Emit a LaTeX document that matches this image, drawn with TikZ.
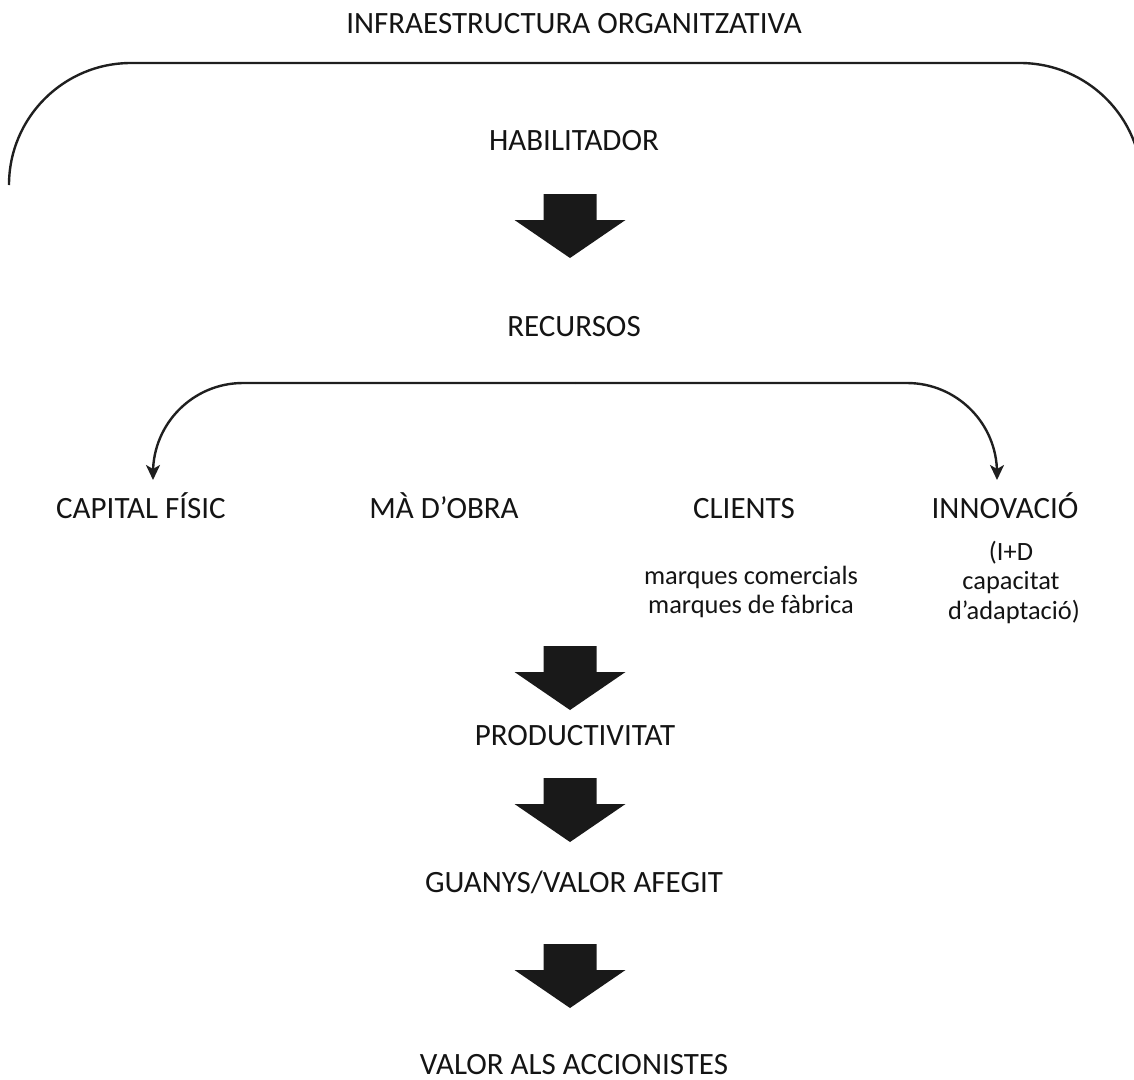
\documentclass[tikz,border=0pt]{standalone}
\usepackage{fontspec}
\setmainfont{Carlito}
\usetikzlibrary{arrows.meta}
\begin{document}
\begin{tikzpicture}[x=1pt,y=-1pt,
  label/.style={inner sep=0pt, anchor=base, text=black!92, font=\fontsize{31}{37}\selectfont},
  note/.style={inner sep=0pt, text=black!92, align=center, font=\fontsize{26.4}{29.5}\selectfont},
  conn/.style={line width=2.4pt, draw=black!88},
  tip/.style={-{Stealth[length=15pt,width=14pt,inset=4pt]}},
  downarrow/.pic={\fill[black!90] (-26.5,0) -- (26.5,0) -- (26.5,26) -- (55.5,26)
      -- (0,64) -- (-55.5,26) -- (-26.5,26) -- cycle;}]
\useasboundingbox (0,0) rectangle (1134,1079);

% headings of the chain (placed on their baselines)
\node[label] (infra) at (574,33) {INFRAESTRUCTURA ORGANITZATIVA};
\node[label] (habil) at (574,150) {HABILITADOR};
\node[label] (recur) at (574,336) {RECURSOS};
\node[label] (capital) at (141,518) {CAPITAL FÍSIC};
\node[label] (ma) at (444,518) {MÀ D’OBRA};
\node[label] (clients) at (744,518) {CLIENTS};
\node[label] (innov) at (1005,518) {INNOVACIÓ};
\node[note] (marques) at (751,592) {marques comercials\\marques de fàbrica};
\node[note] (recerca) at (1011,582) {(I+D\\capacitat\\\ d’adaptació)};
\node[label] (prod) at (575,745) {PRODUCTIVITAT};
\node[label] (guanys) at (574,892) {GUANYS/VALOR AFEGIT};
\node[label] (valor) at (574,1074) {VALOR ALS ACCIONISTES};

% enclosing arch of the infrastructure, trimmed at the page edge
\begin{scope}
\clip (0,0) rectangle (1134,1079);
\coordinate (archL) at (9,185);
\coordinate (archR) at (1142,185);
\coordinate (archTop) at (574,63);
\draw[conn, rounded corners=122pt] (archL) |- (archTop) -| (archR);
\end{scope}

% resource bracket with arrows
\coordinate (resL) at (153,480);
\coordinate (resR) at (997,480);
\coordinate (resTop) at (575,383);
\draw[conn, tip, rounded corners=90pt] (resTop) -| (resR);
\draw[conn, tip, rounded corners=90pt] (resTop) -| (resL);

% block arrows down the chain
\pic at (570,194) {downarrow};
\pic at (570,646) {downarrow};
\pic at (570,778) {downarrow};
\pic at (570,944) {downarrow};
\end{tikzpicture}
\end{document}
